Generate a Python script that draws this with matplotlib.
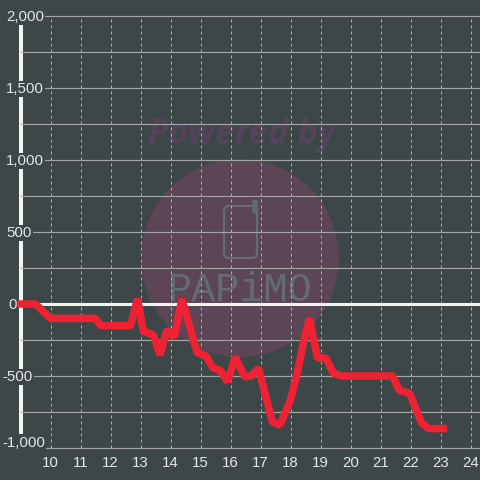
import matplotlib
matplotlib.use("Agg")
import matplotlib.pyplot as plt
from matplotlib.patches import Circle, FancyBboxPatch
from matplotlib.transforms import blended_transform_factory, ScaledTranslation

# Data
hours = [9.0, 9.5, 10.0, 11.5, 11.67, 12.67, 12.9, 13.1, 13.43, 13.65, 13.88, 14.13, 14.38,
         14.88, 15.18, 15.42, 15.65, 15.9, 16.15, 16.48, 16.7, 16.93, 17.4, 17.65, 18.0,
         18.2, 18.43, 18.63, 18.9, 19.18, 19.43, 19.7, 21.4, 21.63, 21.97, 22.37, 22.6, 23.1]
values = [0, 0, -100, -100, -150, -150, 35, -190, -215, -355, -180, -230, 35,
          -335, -360, -445, -460, -540, -370, -505, -500, -445, -820, -840, -665,
          -505, -270, -100, -375, -375, -480, -500, -500, -600, -620, -825, -865, -865]
x_ticks = list(range(10, 25))
y_ticks = list(range(-1000, 2001, 250))
y_label_values = [2000, 1500, 1000, 500, 0, -500, -1000]
y_label_texts = ["2,000", "1,500", "1,000", "500", "0", "-500", "-1,000"]

BG = "#3e4747"
TXT = "#e4e6e6"
plt.rcParams["font.family"] = ["Liberation Sans", "DejaVu Sans"]

fig = plt.figure(figsize=(4.8, 4.8), dpi=100, facecolor=BG)
ax = fig.add_axes([20.5 / 480, 32 / 480, 459.5 / 480, 432 / 480])
ax.patch.set_visible(False)
ax.set_xlim(9, 9 + 459.5 / 30)
ax.set_ylim(-1000, 2000)

# Watermark (behind the axes)
wm = [
    Circle((240 / 480, 222 / 480), 99 / 480, transform=fig.transFigure, fc="#5c4555", ec="none", zorder=-2),
    FancyBboxPatch((227 / 480, 225 / 480), 27 / 480, 46 / 480, boxstyle=f"round,pad={3/480},rounding_size={5/480}",
                   transform=fig.transFigure, fc="none", ec="#646c6f", lw=1.6, zorder=-1),
    FancyBboxPatch((254 / 480, 268 / 480), 2 / 480, 11 / 480, boxstyle=f"round,pad={1/480},rounding_size={2/480}",
                   transform=fig.transFigure, fc="#646c6f", ec="#646c6f", lw=0.8, zorder=-1),
]
for p in wm:
    fig.add_artist(p)
fig.text(242 / 480, 345 / 480, "Powered by", fontsize=25, fontweight="bold", fontstyle="italic",
         color="#54435a", ha="center", va="center", family=["Open Sans", "DejaVu Sans"], zorder=-1)
fig.text(240 / 480, 190 / 480, "PAPiMO", fontsize=29, fontweight="light", color="#646c6f", ha="center", va="center",
         family=["Liberation Mono", "DejaVu Sans Mono"], zorder=-1)

# Grid and axes
ax.set_axisbelow("line")
ax.set_xticks(x_ticks)
ax.set_yticks(y_ticks)
ax.set_yticklabels([])
ax.tick_params(axis="both", length=0)
ax.tick_params(axis="x", labelsize=10.8, labelcolor=TXT, pad=5.5)
ax.grid(axis="x", color="#a9adad", lw=0.72, linestyle=(0, (3, 3)))
ax.grid(axis="y", color="#a3a5a5", lw=0.85)
for line, v in zip(ax.yaxis.get_gridlines(), y_ticks):
    line.set_clip_on(False)
    if v == 0:
        line.set_color("#f2f4f2")
        line.set_linewidth(2.2)
for name, sp in ax.spines.items():
    sp.set_visible(name == "left")
ax.spines["left"].set_color("#f2f4f2")
ax.spines["left"].set_linewidth(2.9)
ax.spines["left"].set_zorder(1)

# y labels carry a background box that interrupts the axis and grid lines
trans = blended_transform_factory(fig.transFigure, ax.transData) + ScaledTranslation(0, -1 / 100, fig.dpi_scale_trans)
for v, s in zip(y_label_values, y_label_texts):
    xpx = 2 if s.startswith("-") else (8 if s == "0" else 6)
    ypos = -955 if v == -1000 else v
    ax.text(xpx / 480, ypos, s, transform=trans, fontsize=10.8, color=TXT, ha="left", va="center",
            clip_on=False, zorder=1.8, bbox=dict(fc=BG, ec="none", pad=1.0))

ax.plot(hours, values, color="#ee2233", lw=5.4, solid_joinstyle="bevel",
        solid_capstyle="projecting", zorder=3, clip_on=False)

fig.savefig("out.png", dpi=100, facecolor=BG)
